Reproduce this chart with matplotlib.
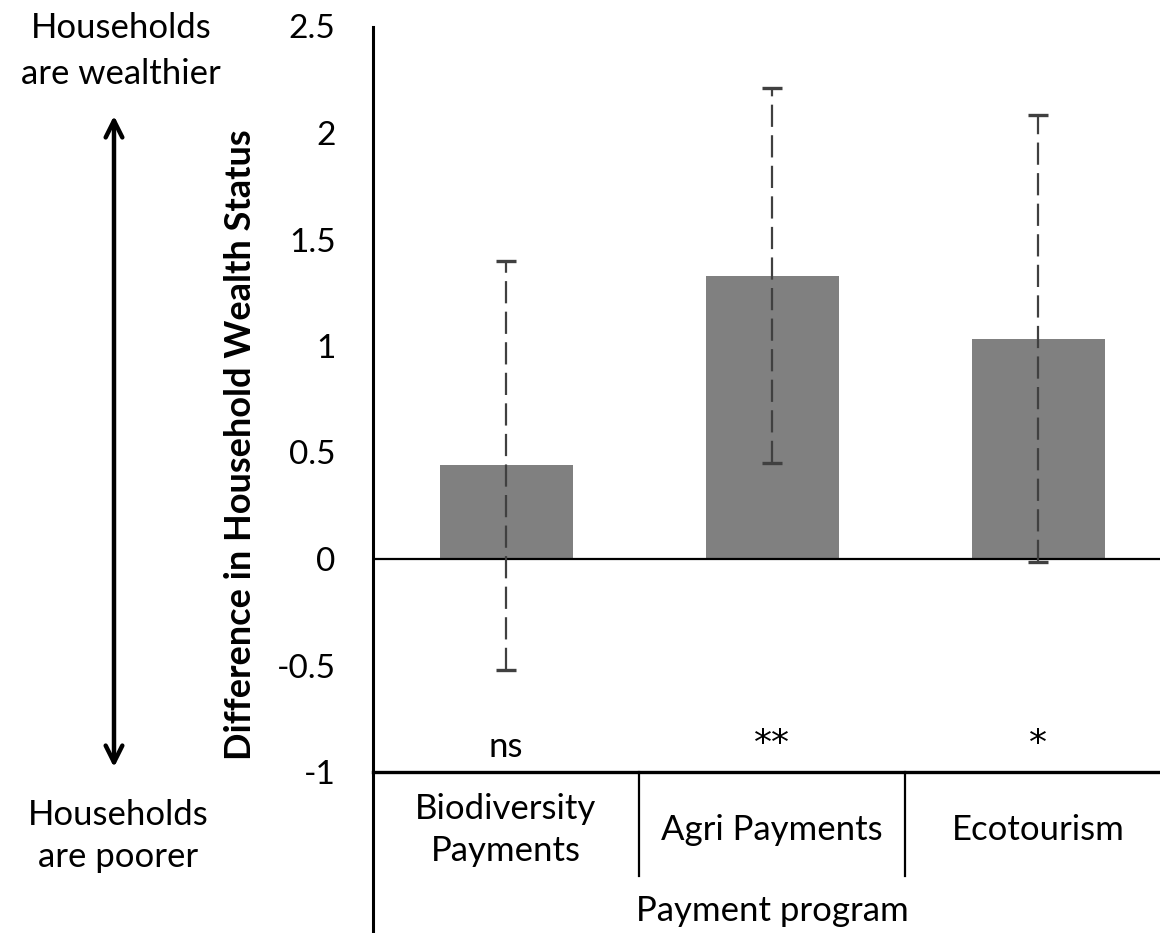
import matplotlib
matplotlib.use("Agg")
import matplotlib.pyplot as plt
from matplotlib.lines import Line2D
from matplotlib.patches import FancyArrowPatch

plt.rcParams['font.family'] = ['Lato', 'DejaVu Sans']
plt.rcParams['lines.scale_dashes'] = False

# Data
programs = ["Biodiversity\nPayments", "Agri Payments", "Ecotourism"]
wealth_diff = [0.44, 1.33, 1.035]
error = [0.96, 0.88, 1.05]
significance = ["ns", "**", "*"]
yticks = [-1, -0.5, 0, 0.5, 1, 1.5, 2, 2.5]
ytick_labels = ["-1", "-0.5", "0", "0.5", "1", "1.5", "2", "2.5"]

FS = 25
W, H = 1160, 933
fig = plt.figure(figsize=(W / 100, H / 100), dpi=100)
ax = fig.add_axes([373 / W, (H - 772) / H, 798 / W, 745.5 / H])

x = list(range(len(programs)))
ax.bar(x, wealth_diff, width=0.5, color="#808080", zorder=2)
eb = ax.errorbar(x, wealth_diff, yerr=error, fmt="none", ecolor="#404040",
                 elinewidth=1.6, capsize=7.5, capthick=2.4, zorder=3)
for lc in eb[2]:
    lc.set_linestyle((0, (16, 6)))

ax.axhline(0, color="black", lw=1.6, zorder=2.5)

ax.set_xlim(-0.5, 2.5)
ax.set_ylim(-1, 2.5)
ax.set_yticks(yticks)
ax.set_yticklabels(ytick_labels)
ax.tick_params(axis="y", length=0, pad=27, labelsize=24)
ax.set_xticks([])

for side in ("top", "right"):
    ax.spines[side].set_visible(False)
ax.spines["left"].set_linewidth(2.2)
ax.spines["bottom"].set_linewidth(2.4)

# significance markers above the category axis
for xi, s in zip(x, significance):
    if s == "ns":
        ax.text(xi, -0.93, s, ha="center", va="baseline", fontsize=FS)
    else:
        ax.text(xi, -0.87, s, ha="center", va="center", fontsize=26,
                family="DejaVu Sans")

# category labels and dividers below the axis
bt = ax.get_xaxis_transform()
for xi, lab in zip(x, programs):
    ax.text(xi, -0.078, lab, transform=bt, ha="center", va="center",
            fontsize=FS, linespacing=1.41)
for sep in (0.5, 1.5):
    ax.add_line(Line2D([sep, sep], [0, -0.1395], transform=bt,
                       color="black", lw=1.6, clip_on=False))
ax.add_line(Line2D([-0.5, -0.5], [0, -0.22], transform=bt,
                   color="black", lw=2.2, clip_on=False))
ax.text(1, -0.1865, "Payment program", transform=bt, ha="center",
        va="center", fontsize=FS)

# axis title
fig.text(241 / W, 1 - 445 / H, "Difference in Household Wealth Status",
         rotation=90, ha="center", va="center", fontsize=26,
         fontweight="bold")

# direction annotations on the left
fig.text(121 / W, 1 - 51 / H, "Households\nare wealthier", ha="center",
         va="center", fontsize=FS, linespacing=1.57)
fig.text(118 / W, 1 - 836 / H, "Households\nare poorer", ha="center",
         va="center", fontsize=FS, linespacing=1.41)
arrow = FancyArrowPatch((114 / W, 1 - 770 / H), (114 / W, 1 - 113 / H),
                        transform=fig.transFigure,
                        arrowstyle="<->,head_length=12,head_width=6",
                        color="black", lw=3.2, mutation_scale=1)
fig.add_artist(arrow)

fig.savefig("out.png", dpi=100, facecolor="white")
